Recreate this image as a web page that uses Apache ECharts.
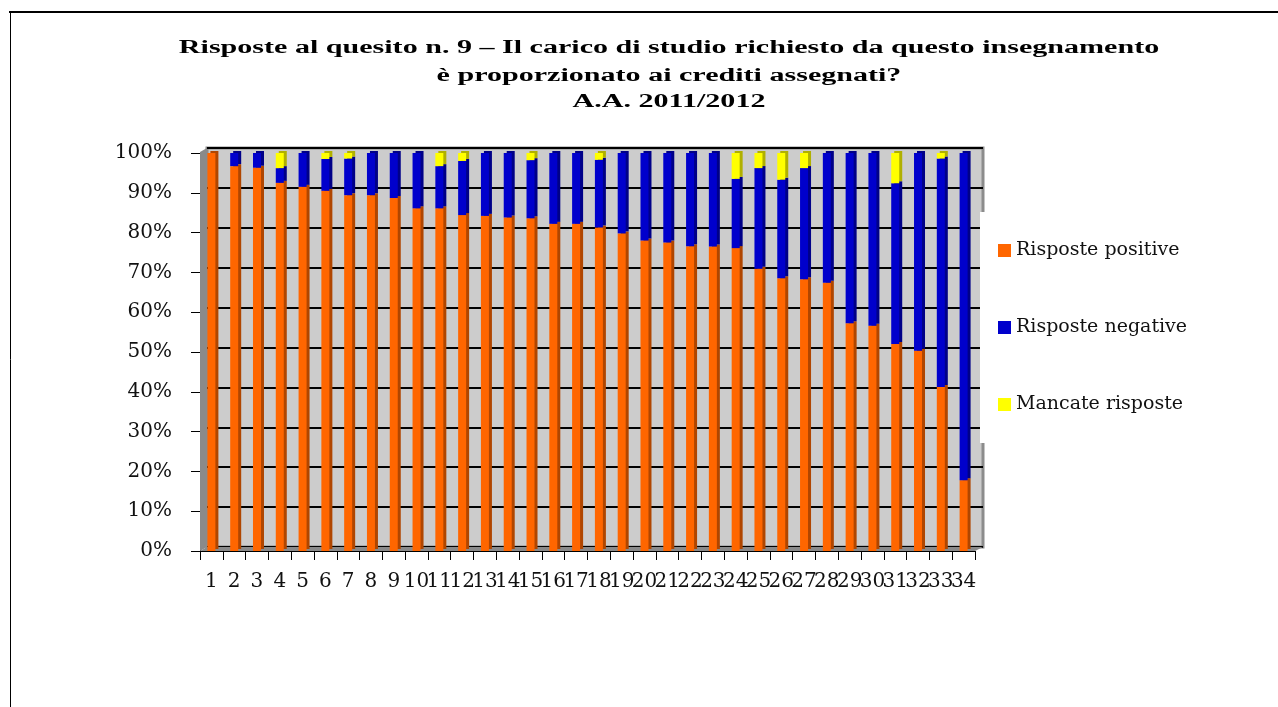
<!DOCTYPE html>
<html>
<head>
<meta charset="utf-8">
<script src="https://cdn.jsdelivr.net/npm/echarts@6/dist/echarts.min.js"></script>
<style>html,body{margin:0;padding:0;background:#fff}#c{width:1278px;height:707px}</style>
</head>
<body>
<div id="c"></div>
<script>
const categories = ['1','2','3','4','5','6','7','8','9','10','11','12','13','14','15','16','17','18','19','20','21','22','23','24','25','26','27','28','29','30','31','32','33','34'];
const positive = [100,96.7,96.3,92.5,91.5,90.5,89.4,89.4,88.7,86.1,86.1,84.4,84.2,83.8,83.6,82.2,82.2,81.3,79.8,78.0,77.5,76.6,76.5,76.1,70.9,68.5,68.3,67.4,57.2,56.6,52.0,50.3,41.2,17.8];
const negative = [0,3.3,3.7,3.7,8.5,8.0,9.2,10.6,11.3,13.9,10.6,13.6,15.8,16.2,14.6,17.8,17.8,17.0,20.2,22.0,22.5,23.4,23.5,17.4,25.3,24.8,27.9,32.6,42.8,43.4,40.4,49.7,57.4,82.2];
const missing  = [0,0,0,3.8,0,1.5,1.4,0,0,0,3.3,2.0,0,0,1.8,0,0,1.7,0,0,0,0,0,6.5,3.8,6.7,3.8,0,0,0,7.6,0,1.4,0];
const seriesNames = ['Risposte positive','Risposte negative','Mancate risposte'];
const titleLines = ['Risposte al quesito n. 9 \u2013 Il carico di studio richiesto da questo insegnamento','\u00e8 proporzionato ai crediti assegnati?','A.A. 2011/2012'];

const chart = echarts.init(document.getElementById('c'), null, {renderer:'canvas'});
const serif = '"DejaVu Serif", serif';
function barSeries(name, data, color, side){
  return {
    name, type:'bar', stack:'s', data, xAxisIndex:1, yAxisIndex:1,
    barWidth:8, z:3,
    itemStyle:{color, shadowColor:side, shadowBlur:0, shadowOffsetX:3, shadowOffsetY:-2},
    emphasis:{disabled:true}
  };
}
const titleY = [48, 76, 102];
chart.setOption({
  animation:false,
  backgroundColor:'#ffffff',
  grid:[
    {left:207, top:148, width:776, height:399, show:true, backgroundColor:'#cccccc', borderColor:'#8c8c8c', borderWidth:3},
    {left:200, top:153, width:775, height:398}
  ],
  xAxis:[
    {type:'category', gridIndex:0, data:categories, show:false},
    {type:'category', gridIndex:1, data:categories,
     axisLine:{show:true, lineStyle:{color:'#000', width:1}},
     axisTick:{show:true, length:9, lineStyle:{color:'#000'}},
     axisLabel:{interval:0, margin:21, color:'#111', fontFamily:serif, fontSize:20}}
  ],
  yAxis:[
    {type:'value', gridIndex:0, min:0, max:100, interval:10,
     axisLine:{show:false}, axisTick:{show:false}, axisLabel:{show:false},
     splitLine:{show:true, lineStyle:{color:'#000', width:2}}},
    {type:'value', gridIndex:1, min:0, max:100, interval:10,
     axisLine:{show:true, lineStyle:{color:'#000', width:1}},
     axisTick:{show:true, length:9, lineStyle:{color:'#000'}},
     splitLine:{show:false},
     axisLabel:{formatter:'{value}%', margin:28, color:'#111', fontFamily:serif, fontSize:20}}
  ],
  legend:{
    orient:'vertical', left:980, top:212, backgroundColor:'#ffffff',
    padding:[29,90,29,18], itemGap:58, itemWidth:13, itemHeight:13, icon:'rect',
    textStyle:{fontFamily:serif, fontSize:19, color:'#111'},
    data:seriesNames
  },
  graphic:[
    {type:'polygon', z:1, shape:{points:[[200,152],[207,148],[207,547],[200,551]]}, style:{fill:'#8a8a8a'}},
    {type:'polygon', z:1, shape:{points:[[200,551],[207,547],[983,547],[975,551]]}, style:{fill:'#8a8a8a'}},
    {type:'line', z:5, shape:{x1:9,y1:12,x2:1278,y2:12}, style:{stroke:'#000', lineWidth:2}},
    {type:'line', z:5, shape:{x1:10.5,y1:12,x2:10.5,y2:707}, style:{stroke:'#000', lineWidth:1}},
    ...titleLines.map((t,i)=>({
      type:'text', z:10, x:669, y:titleY[i], scaleX:1.67, scaleY:1,
      style:{text:t, font:'bold 18px "Liberation Serif", serif', fill:'#000',
             textAlign:'center', textVerticalAlign:'middle', align:'center', verticalAlign:'middle'}
    }))
  ],
  series:[
    barSeries(seriesNames[0], positive, '#ff6600', '#b04600'),
    barSeries(seriesNames[1], negative, '#0000cc', '#000088'),
    barSeries(seriesNames[2], missing, '#ffff00', '#b0b000')
  ]
});
</script>
</body>
</html>
